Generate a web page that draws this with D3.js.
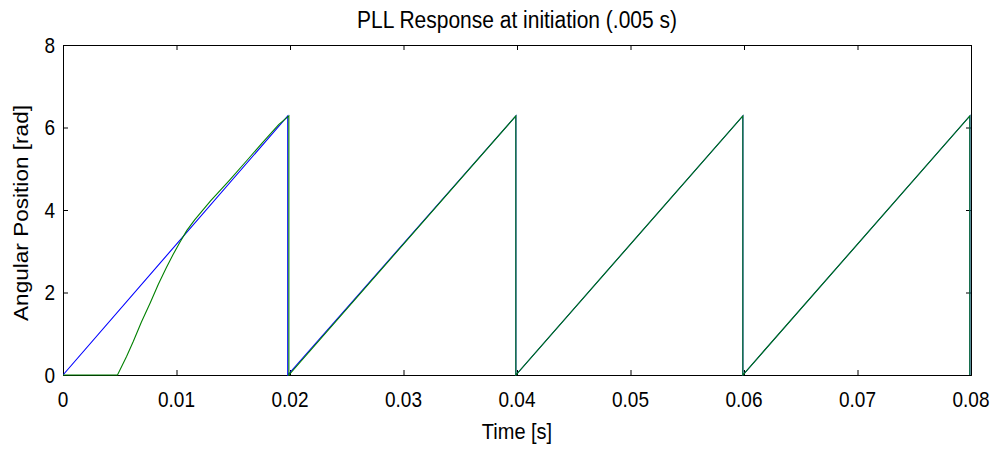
<!DOCTYPE html>
<html>
<head>
<meta charset="utf-8">
<script src="https://cdn.jsdelivr.net/npm/d3@7"></script>
<style>
  html, body { margin: 0; padding: 0; background: #fff; }
  svg { display: block; }
  text { font-family: "Liberation Sans", Arial, sans-serif; fill: #000; }
</style>
</head>
<body>
<svg id="chart" width="1000" height="450"></svg>
<script>
// ---- data ----
const xTicks = [0, 0.01, 0.02, 0.03, 0.04, 0.05, 0.06, 0.07, 0.08];
const xTickLabels = ["0", "0.01", "0.02", "0.03", "0.04", "0.05", "0.06", "0.07", "0.08"];
const yTicks = [0, 2, 4, 6, 8];
const yTickLabels = ["0", "2", "4", "6", "8"];

// reference angle (blue)
const blueTime  = [0, 0.0198, 0.0198, 0.0399, 0.0399, 0.0599, 0.0599, 0.0799, 0.0799];
const blueValue = [0, 6.28,   0,      6.28,   0,      6.28,   0,      6.28,   0];

// PLL output (green), starts at 0.005 s
const greenTime  = [0, 0.0048, 0.0056, 0.0062, 0.0069, 0.0077, 0.0084, 0.0091, 0.0097, 0.0103, 0.0109, 0.0116, 0.0130, 0.0146, 0.0162, 0.0175, 0.0190, 0.0199, 0.0199, 0.0399, 0.0399, 0.0599, 0.0599, 0.0799, 0.0799];
const greenValue = [0, 0,      0.45,   0.82,   1.28,   1.76,   2.20,   2.60,   2.92,   3.22,   3.50,   3.76,   4.22,   4.70,   5.20,   5.61,   6.07,   6.28,   0,      6.28,   0,      6.28,   0,      6.28,   0];

const titleText = "PLL Response at initiation (.005 s)";
const xLabelText = "Time [s]";
const yLabelText = "Angular Position [rad]";

// ---- layout ----
const L = 63, R = 971, T = 45, B = 375;
const stretch = 1.13;
const svg = d3.select("#chart");

const x = d3.scaleLinear().domain([0, 0.08]).range([L, R]);
const y = d3.scaleLinear().domain([0, 8]).range([B, T]);

function label(xp, yp, str, size, anchor, rotated) {
  return svg.append("text")
    .attr("transform", rotated
      ? `translate(${xp},${yp}) rotate(-90) scale(${stretch},1)`
      : `translate(${xp},${yp}) scale(1,${stretch})`)
    .attr("text-anchor", anchor)
    .style("font-size", size + "px")
    .text(str);
}

// clip
svg.append("clipPath").attr("id", "clip")
  .append("rect").attr("x", L).attr("y", T - 2).attr("width", R - L + 1).attr("height", B - T + 3);

// axes with inward ticks on all four sides
const tk = 5;
svg.append("g").attr("transform", `translate(0,${B})`)
  .call(d3.axisBottom(x).tickValues(xTicks).tickSize(-tk).tickFormat(""));
svg.append("g").attr("transform", `translate(0,${T})`)
  .call(d3.axisTop(x).tickValues(xTicks).tickSize(-tk).tickFormat(""));
svg.append("g").attr("transform", `translate(${L},0)`)
  .call(d3.axisLeft(y).tickValues(yTicks).tickSize(-tk).tickFormat(""));
svg.append("g").attr("transform", `translate(${R},0)`)
  .call(d3.axisRight(y).tickValues(yTicks).tickSize(-tk).tickFormat(""));
svg.selectAll(".domain").attr("stroke", "#000").attr("stroke-width", 1);
svg.selectAll(".tick line").attr("stroke", "#000").attr("stroke-width", 1);

// lines
const line = d3.line().x(d => x(d[0])).y(d => y(d[1]));
const blueData = blueTime.map((t, i) => [t, blueValue[i]]);
const greenData = greenTime.map((t, i) => [t, greenValue[i]]);
const plot = svg.append("g").attr("clip-path", "url(#clip)");
plot.append("path").datum(blueData).attr("d", line)
  .attr("fill", "none").attr("stroke", "#0000ff").attr("stroke-width", 1.1);
plot.append("path").datum(greenData).attr("d", line)
  .attr("fill", "none").attr("stroke", "#008000").attr("stroke-width", 1.1);

// tick labels
xTicks.forEach((t, i) => label(x(t), 407, xTickLabels[i], 19, "middle", false));
yTicks.forEach((v, i) => label(55, y(v) + 7.5, yTickLabels[i], 19, "end", false));

// titles
label((L + R) / 2, 28, titleText, 21, "middle", false);
label((L + R) / 2, 439, xLabelText, 20, "middle", false);
label(28, 213, yLabelText, 20, "middle", true);
</script>
</body>
</html>
